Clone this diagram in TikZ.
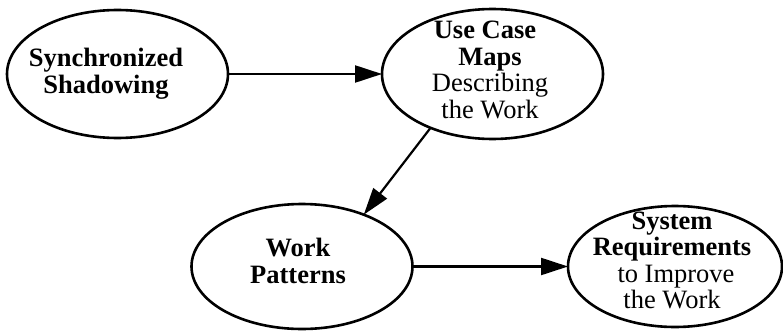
\documentclass[tikz,border=0pt]{standalone}
\usepackage{fontspec}
\setmainfont{Liberation Serif}
\usetikzlibrary{shapes.geometric,arrows.meta}

\tikzset{
  oval/.style={ellipse, draw=black, line width=2.6pt, inner sep=0pt, outer sep=0pt},
  label text/.style={inner sep=0pt, align=center,
    font=\fontsize{26.5}{26.5}\selectfont},
  flow/.style={draw=black, line width=2.2pt,
    -{Triangle[length=27pt, width=17pt]}}
}

\begin{document}
\begin{tikzpicture}[x=1pt, y=1pt]
  \useasboundingbox (0,0) rectangle (783,330);

  % ellipses
  \node[oval, minimum width=221pt, minimum height=128pt] (ss) at (117.5,256) {};
  \node[oval, minimum width=221pt, minimum height=130pt] (uc) at (492.5,256) {};
  \node[oval, minimum width=221pt, minimum height=125pt] (wp) at (302,63.5) {};
  \node[oval, minimum width=214pt, minimum height=121pt] (sr) at (675,63.5) {};

  % texts
  \node[label text] (sst) at (106,256.5) {\textbf{Synchronized}\\\textbf{Shadowing}};
  \node[label text] (uct) at (490,260) {\textbf{Use Case}\hspace*{10pt}\\\textbf{Maps}\\Describing\\the Work};
  \node[label text] (wpt) at (298,69) {\textbf{Work}\\\textbf{Patterns}};
  \node[label text] (srt) at (672,69.5) {\textbf{System}\\\textbf{Requirements}\\\hspace*{8pt}to Improve\\the Work};

  % connectors
  \draw[flow] (ss.east) -- (uc.west);
  \draw[flow] (uc.221) -- (wp.40.5);
  \draw[flow] (wp.east) -- (sr.west);
\end{tikzpicture}
\end{document}
